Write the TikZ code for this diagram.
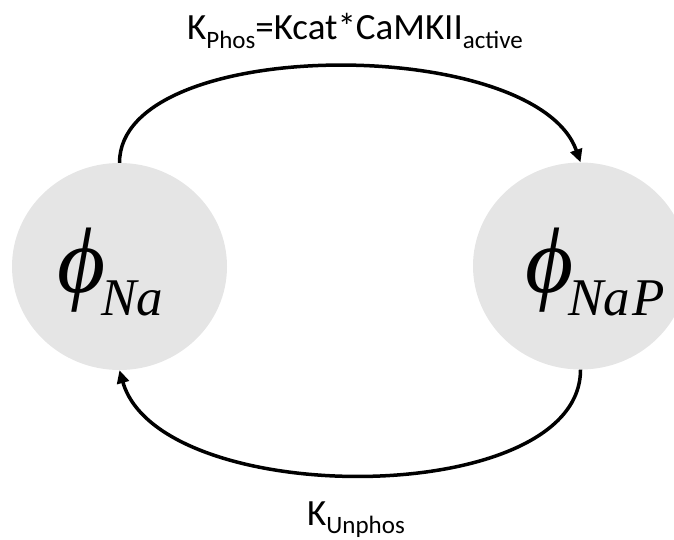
\documentclass[tikz,border=0pt]{standalone}
\usepackage{fontspec}
\setmainfont{Carlito}
\newfontfamily\tnr{Liberation Serif}
\usetikzlibrary{arrows.meta,shapes.geometric}
\newcommand\mysub[1]{\raisebox{-0.23em}{\fontsize{25}{25}\selectfont #1}}
\newcommand\phisub[1]{\raisebox{-23pt}{\fontsize{53}{53}\selectfont #1}}
\tikzset{
  state/.style={ellipse, fill=gray!20, draw=none, minimum width=215pt, minimum height=207pt, inner sep=0pt},
  phitext/.style={inner sep=0pt, font=\tnr\itshape\fontsize{93}{93}\selectfont},
  ratelabel/.style={inner sep=0pt, font=\fontsize{37}{37}\selectfont},
  conn/.style={line width=3.5pt, -{Triangle[length=13pt,width=12pt]}}
}
\begin{document}
\begin{tikzpicture}[x=1pt,y=-1pt]
\useasboundingbox (0,0) rectangle (674,540);
\node[state] (na) at (119.5,266.5) {};
\node[state] (nap) at (580.5,266) {};
\node[phitext, anchor=base west] (naT) at (57,292) {ϕ\kern-4pt\phisub{Na}};
\node[phitext, anchor=base west] (napT) at (525,292) {ϕ\kern-5pt\phisub{Na\kern2pt P}};
\node[ratelabel, anchor=base west] (kphos) at (187,40) {K\mysub{Phos}=Kcat*CaMKII\mysub{active}};
\node[ratelabel, anchor=base west] (kunphos) at (307,525) {K\mysub{Unphos}};
\draw[conn] (na.north) .. controls +(0,-128) and +(-45,-128) .. (nap.north);
\draw[conn] (nap.south) .. controls +(0,140) and +(40,140) .. (na.south);
\end{tikzpicture}
\end{document}
